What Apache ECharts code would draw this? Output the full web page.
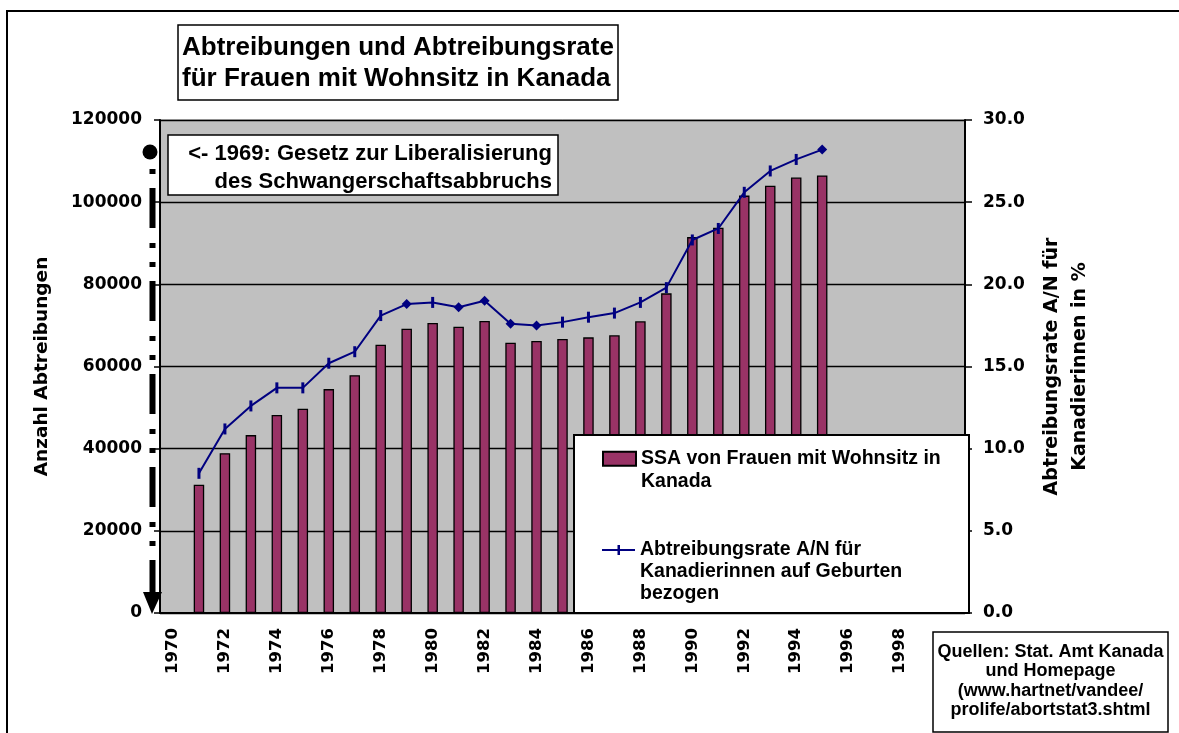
<!DOCTYPE html>
<html lang="de">
<head>
    <meta charset="UTF-8">
    <title>Abtreibungen und Abtreibungsrate Kanada</title>
    <script src="https://cdn.jsdelivr.net/npm/echarts@6/dist/echarts.min.js"></script>
    <style>
        html, body { margin: 0; padding: 0; background: #fff; }
    </style>
</head>
<body>
<div id="main" style="width: 1179px;height:733px;"></div>
<script>
    // Daten
    var years = ['1970', '1971', '1972', '1973', '1974', '1975', '1976', '1977', '1978', '1979',
        '1980', '1981', '1982', '1983', '1984', '1985', '1986', '1987', '1988', '1989',
        '1990', '1991', '1992', '1993', '1994', '1995', '1996', '1997', '1998', '1999', '2000'];
    var abortions = [null, 31200, 38900, 43300, 48200, 49700, 54500, 57900, 65300, 69200,
        70600, 69700, 71100, 65800, 66200, 66700, 67100, 67600, 71000, 77800,
        91500, 93800, 101600, 104000, 106000, 106500, null, null, null, null, null];
    var rate = [null, 8.5, 11.2, 12.6, 13.7, 13.7, 15.2, 15.9, 18.1, 18.8,
        18.9, 18.6, 19.0, 17.6, 17.5, 17.7, 18.0, 18.25, 18.9, 19.8,
        22.7, 23.4, 25.6, 26.9, 27.6, 28.2, null, null, null, null, null];
    var diamondYears = ['1979', '1981', '1982', '1983', '1984', '1995'];
    var hiddenLabels = ['2000'];

    var barName = 'SSA von Frauen mit Wohnsitz in Kanada';
    var lineName = 'Abtreibungsrate A/N für Kanadierinnen auf Geburten bezogen';
    // leere Zeilen oben, damit das Symbol auf Höhe der ersten Zeile steht
    var legendText = {};
    legendText[barName] = '\nSSA von Frauen mit Wohnsitz in\nKanada';
    legendText[lineName] = '\n\nAbtreibungsrate A/N für\nKanadierinnen auf Geburten\nbezogen';

    var FONT = 'Liberation Sans, Arial, sans-serif';
    var AXFONT = 'DejaVu Sans, sans-serif';

    var rateData = rate.map(function (v, i) {
        if (diamondYears.indexOf(years[i]) >= 0) {
            return { value: v, symbol: 'diamond', symbolSize: 10 };
        }
        return v;
    });

    var myChart = echarts.init(document.getElementById('main'));
    var option = {
        animation: false,
        backgroundColor: '#fff',
        title: {
            text: 'Abtreibungen und Abtreibungsrate\nfür Frauen mit Wohnsitz in Kanada',
            left: 178,
            top: 25,
            padding: [7, 4, 6, 4],
            borderColor: '#000',
            borderWidth: 1.5,
            backgroundColor: '#fff',
            textStyle: { fontFamily: FONT, fontSize: 26, fontWeight: 'bold', lineHeight: 31, color: '#000' }
        },
        legend: [{
            data: [{ name: barName, icon: 'rect' }],
            left: 602,
            top: 425,
            padding: 0,
            itemWidth: 33,
            itemHeight: 14,
            z: 60,
            formatter: function (n) { return legendText[n]; },
            textStyle: { fontFamily: FONT, fontSize: 19.5, fontWeight: 'bold', color: '#000', lineHeight: 22.5 }
        }, {
            data: [{ name: lineName, icon: 'path://M0,4h33v2H0z M15.5,0h2.5v10h-2.5z' }],
            left: 602,
            top: 495,
            padding: 0,
            itemWidth: 33,
            itemHeight: 10,
            z: 60,
            formatter: function (n) { return legendText[n]; },
            textStyle: { fontFamily: FONT, fontSize: 19.5, fontWeight: 'bold', color: '#000', lineHeight: 22 }
        }],
        grid: {
            left: 160,
            right: 214,
            top: 120,
            bottom: 120,
            show: true,
            backgroundColor: '#c0c0c0',
            borderColor: '#808080',
            borderWidth: 1
        },
        xAxis: [{
            type: 'category',
            data: years,
            boundaryGap: true,
            axisLine: { lineStyle: { color: '#000', width: 2 } },
            axisTick: { interval: 0, length: 7, lineStyle: { color: '#000', width: 1.5 } },
            axisLabel: {
                interval: 1,
                rotate: 90,
                margin: 15,
                fontFamily: AXFONT,
                fontSize: 16.5,
                fontWeight: 'bold',
                color: '#000',
                formatter: function (v) { return hiddenLabels.indexOf(v) >= 0 ? '' : v; }
            }
        }, {
            type: 'category',
            data: years,
            position: 'bottom',
            boundaryGap: true,
            axisLine: { show: false },
            axisTick: { interval: 0, inside: true, length: 7, lineStyle: { color: '#000', width: 1.5 } },
            axisLabel: { show: false }
        }],
        yAxis: [{
            type: 'value',
            min: 0,
            max: 120000,
            interval: 20000,
            name: 'Anzahl Abtreibungen',
            nameLocation: 'middle',
            nameRotate: 90,
            nameGap: 108,
            nameTextStyle: { fontFamily: AXFONT, fontSize: 18.5, fontWeight: 'bold', color: '#000' },
            axisLine: { show: true, lineStyle: { color: '#000', width: 2 } },
            axisTick: { show: true, length: 6, lineStyle: { color: '#000', width: 1.5 } },
            axisLabel: {
                margin: 18, fontFamily: AXFONT, fontSize: 17, fontWeight: 'bold', color: '#000',
                formatter: function (v) { return String(v); }
            },
            splitLine: { show: true, lineStyle: { color: '#000', width: 1.3 } }
        }, {
            type: 'value',
            min: 0,
            max: 30,
            interval: 5,
            position: 'right',
            name: 'Abtreibungsrate A/N für\nKanadierinnen in %',
            nameLocation: 'middle',
            nameRotate: 90,
            nameGap: 73,
            nameTextStyle: { fontFamily: AXFONT, fontSize: 19, fontWeight: 'bold', color: '#000', lineHeight: 28 },
            axisLine: { show: true, lineStyle: { color: '#000', width: 2 } },
            axisTick: { show: true, length: 7, lineStyle: { color: '#000', width: 1.5 } },
            axisLabel: {
                margin: 18, fontFamily: AXFONT, fontSize: 17, fontWeight: 'bold', color: '#000',
                formatter: function (v) { return v.toFixed(1); }
            },
            splitLine: { show: false }
        }],
        series: [{
            name: barName,
            type: 'bar',
            yAxisIndex: 0,
            barWidth: 10.5,
            data: abortions,
            itemStyle: { color: '#993366', borderColor: '#000', borderWidth: 1.3 }
        }, {
            name: lineName,
            type: 'line',
            yAxisIndex: 1,
            data: rateData,
            symbol: 'rect',
            symbolSize: [3, 11],
            lineStyle: { color: '#000080', width: 2 },
            itemStyle: { color: '#000080' },
            z: 5
        }],
        graphic: [
            // Rahmen
            { type: 'rect', z: 100, silent: true, shape: { x: 7, y: 11, width: 1190, height: 740 },
              style: { fill: 'none', stroke: '#000', lineWidth: 2 } },
            // Hinweis 1969
            { type: 'rect', z: 50, shape: { x: 168, y: 135, width: 390, height: 60 },
              style: { fill: '#fff', stroke: '#000', lineWidth: 1.5 } },
            { type: 'text', z: 51, style: {
                text: '<- 1969: Gesetz zur Liberalisierung\ndes Schwangerschaftsabbruchs',
                x: 552, y: 168, align: 'right', verticalAlign: 'middle', lineHeight: 28,
                fontFamily: FONT, fontSize: 22, fontWeight: 'bold', fill: '#000' } },
            { type: 'circle', z: 50, shape: { cx: 150, cy: 152, r: 7.5 }, style: { fill: '#000' } },
            { type: 'line', z: 50, shape: { x1: 152.5, y1: 169, x2: 152.5, y2: 597 },
              style: { stroke: '#000', lineWidth: 6, lineDash: [5, 14, 40, 15, 5, 14] } },
            { type: 'polygon', z: 50, shape: { points: [[143, 592], [162, 592], [152, 614]] },
              style: { fill: '#000' } },
            // Legendenrahmen
            { type: 'rect', z: 50, shape: { x: 574, y: 435, width: 395, height: 178 },
              style: { fill: '#fff', stroke: '#000', lineWidth: 2 } },
            // Quellen
            { type: 'rect', z: 50, shape: { x: 933, y: 632, width: 235, height: 100 },
              style: { fill: '#fff', stroke: '#000', lineWidth: 1.5 } },
            { type: 'text', z: 51, style: {
                text: 'Quellen: Stat. Amt Kanada\nund Homepage\n(www.hartnet/vandee/\nprolife/abortstat3.shtml',
                x: 1050.5, y: 681, align: 'center', verticalAlign: 'middle', lineHeight: 19.5,
                fontFamily: FONT, fontSize: 18, fontWeight: 'bold', fill: '#000' } }
        ]
    };
    myChart.setOption(option);
</script>
</body>
</html>
